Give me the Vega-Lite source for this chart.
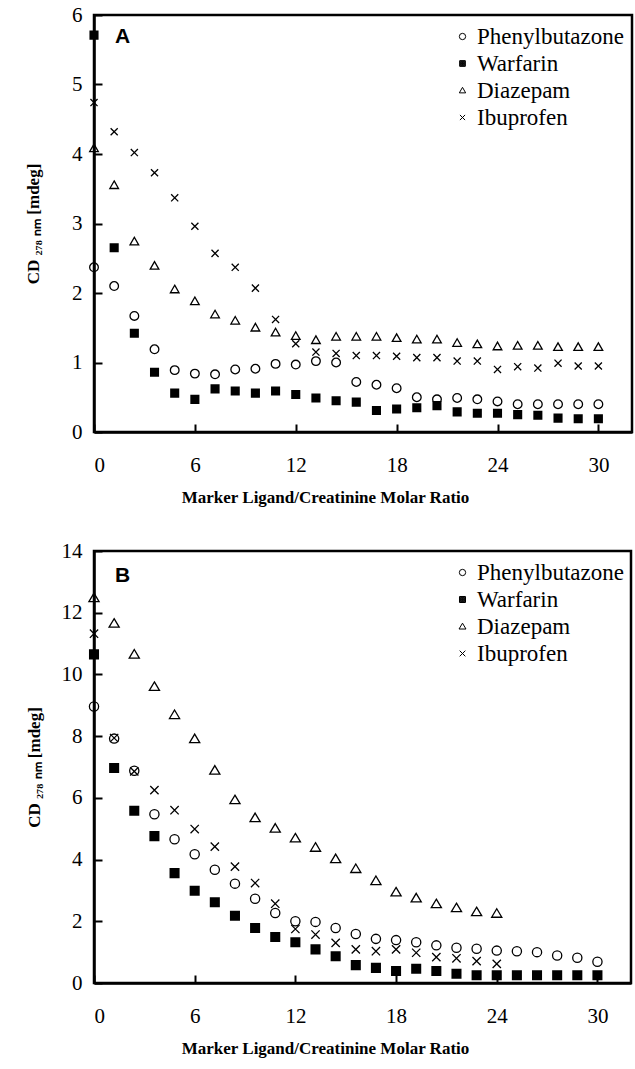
{
  "$schema": "https://vega.github.io/schema/vega-lite/v6.json",
  "padding": {"left": 23, "top": 2, "right": 0, "bottom": 0},
  "background": "white",
  "datasets": {
    "A": [
      {"x": 0, "Phenylbutazone": 2.37, "Warfarin": 5.71, "Diazepam": 4.08, "Ibuprofen": 4.74},
      {"x": 1.2, "Phenylbutazone": 2.10, "Warfarin": 2.65, "Diazepam": 3.55, "Ibuprofen": 4.32},
      {"x": 2.4, "Phenylbutazone": 1.67, "Warfarin": 1.42, "Diazepam": 2.74, "Ibuprofen": 4.02},
      {"x": 3.6, "Phenylbutazone": 1.19, "Warfarin": 0.86, "Diazepam": 2.39, "Ibuprofen": 3.73},
      {"x": 4.8, "Phenylbutazone": 0.89, "Warfarin": 0.56, "Diazepam": 2.05, "Ibuprofen": 3.37},
      {"x": 6, "Phenylbutazone": 0.84, "Warfarin": 0.47, "Diazepam": 1.88, "Ibuprofen": 2.96},
      {"x": 7.2, "Phenylbutazone": 0.83, "Warfarin": 0.62, "Diazepam": 1.69, "Ibuprofen": 2.57},
      {"x": 8.4, "Phenylbutazone": 0.90, "Warfarin": 0.59, "Diazepam": 1.60, "Ibuprofen": 2.37},
      {"x": 9.6, "Phenylbutazone": 0.91, "Warfarin": 0.56, "Diazepam": 1.50, "Ibuprofen": 2.07},
      {"x": 10.8, "Phenylbutazone": 0.98, "Warfarin": 0.59, "Diazepam": 1.43, "Ibuprofen": 1.62},
      {"x": 12, "Phenylbutazone": 0.97, "Warfarin": 0.54, "Diazepam": 1.38, "Ibuprofen": 1.27},
      {"x": 13.2, "Phenylbutazone": 1.02, "Warfarin": 0.49, "Diazepam": 1.32, "Ibuprofen": 1.15},
      {"x": 14.4, "Phenylbutazone": 1.00, "Warfarin": 0.45, "Diazepam": 1.37, "Ibuprofen": 1.13},
      {"x": 15.6, "Phenylbutazone": 0.72, "Warfarin": 0.43, "Diazepam": 1.37, "Ibuprofen": 1.10},
      {"x": 16.8, "Phenylbutazone": 0.68, "Warfarin": 0.31, "Diazepam": 1.37, "Ibuprofen": 1.10},
      {"x": 18, "Phenylbutazone": 0.63, "Warfarin": 0.33, "Diazepam": 1.35, "Ibuprofen": 1.09},
      {"x": 19.2, "Phenylbutazone": 0.50, "Warfarin": 0.35, "Diazepam": 1.33, "Ibuprofen": 1.07},
      {"x": 20.4, "Phenylbutazone": 0.47, "Warfarin": 0.38, "Diazepam": 1.33, "Ibuprofen": 1.07},
      {"x": 21.6, "Phenylbutazone": 0.49, "Warfarin": 0.29, "Diazepam": 1.28, "Ibuprofen": 1.02},
      {"x": 22.8, "Phenylbutazone": 0.47, "Warfarin": 0.27, "Diazepam": 1.26, "Ibuprofen": 1.02},
      {"x": 24, "Phenylbutazone": 0.44, "Warfarin": 0.27, "Diazepam": 1.23, "Ibuprofen": 0.90},
      {"x": 25.2, "Phenylbutazone": 0.40, "Warfarin": 0.25, "Diazepam": 1.24, "Ibuprofen": 0.94},
      {"x": 26.4, "Phenylbutazone": 0.40, "Warfarin": 0.24, "Diazepam": 1.24, "Ibuprofen": 0.92},
      {"x": 27.6, "Phenylbutazone": 0.40, "Warfarin": 0.20, "Diazepam": 1.22, "Ibuprofen": 0.99},
      {"x": 28.8, "Phenylbutazone": 0.40, "Warfarin": 0.19, "Diazepam": 1.22, "Ibuprofen": 0.95},
      {"x": 30, "Phenylbutazone": 0.40, "Warfarin": 0.19, "Diazepam": 1.22, "Ibuprofen": 0.95}
    ],
    "B": [
      {"x": 0, "Phenylbutazone": 8.96, "Warfarin": 10.65, "Diazepam": 12.48, "Ibuprofen": 11.32},
      {"x": 1.2, "Phenylbutazone": 7.92, "Warfarin": 6.97, "Diazepam": 11.65, "Ibuprofen": 7.94},
      {"x": 2.4, "Phenylbutazone": 6.88, "Warfarin": 5.58, "Diazepam": 10.65, "Ibuprofen": 6.86},
      {"x": 3.6, "Phenylbutazone": 5.47, "Warfarin": 4.76, "Diazepam": 9.60, "Ibuprofen": 6.25},
      {"x": 4.8, "Phenylbutazone": 4.66, "Warfarin": 3.56, "Diazepam": 8.69, "Ibuprofen": 5.60},
      {"x": 6, "Phenylbutazone": 4.17, "Warfarin": 2.99, "Diazepam": 7.91, "Ibuprofen": 4.99},
      {"x": 7.2, "Phenylbutazone": 3.67, "Warfarin": 2.62, "Diazepam": 6.89, "Ibuprofen": 4.42},
      {"x": 8.4, "Phenylbutazone": 3.22, "Warfarin": 2.18, "Diazepam": 5.93, "Ibuprofen": 3.77},
      {"x": 9.6, "Phenylbutazone": 2.73, "Warfarin": 1.78, "Diazepam": 5.35, "Ibuprofen": 3.24},
      {"x": 10.8, "Phenylbutazone": 2.27, "Warfarin": 1.49, "Diazepam": 5.01, "Ibuprofen": 2.57},
      {"x": 12, "Phenylbutazone": 2.00, "Warfarin": 1.32, "Diazepam": 4.69, "Ibuprofen": 1.75},
      {"x": 13.2, "Phenylbutazone": 1.98, "Warfarin": 1.09, "Diazepam": 4.39, "Ibuprofen": 1.57},
      {"x": 14.4, "Phenylbutazone": 1.78, "Warfarin": 0.87, "Diazepam": 4.02, "Ibuprofen": 1.30},
      {"x": 15.6, "Phenylbutazone": 1.59, "Warfarin": 0.58, "Diazepam": 3.70, "Ibuprofen": 1.09},
      {"x": 16.8, "Phenylbutazone": 1.43, "Warfarin": 0.49, "Diazepam": 3.31, "Ibuprofen": 1.03},
      {"x": 18, "Phenylbutazone": 1.39, "Warfarin": 0.39, "Diazepam": 2.94, "Ibuprofen": 1.09},
      {"x": 19.2, "Phenylbutazone": 1.32, "Warfarin": 0.46, "Diazepam": 2.75, "Ibuprofen": 0.98},
      {"x": 20.4, "Phenylbutazone": 1.22, "Warfarin": 0.39, "Diazepam": 2.56, "Ibuprofen": 0.84},
      {"x": 21.6, "Phenylbutazone": 1.14, "Warfarin": 0.30, "Diazepam": 2.43, "Ibuprofen": 0.80},
      {"x": 22.8, "Phenylbutazone": 1.11, "Warfarin": 0.25, "Diazepam": 2.30, "Ibuprofen": 0.71},
      {"x": 24, "Phenylbutazone": 1.05, "Warfarin": 0.25, "Diazepam": 2.25, "Ibuprofen": 0.62},
      {"x": 25.2, "Phenylbutazone": 1.03, "Warfarin": 0.25},
      {"x": 26.4, "Phenylbutazone": 1.00, "Warfarin": 0.25},
      {"x": 27.6, "Phenylbutazone": 0.89, "Warfarin": 0.25},
      {"x": 28.8, "Phenylbutazone": 0.82, "Warfarin": 0.25},
      {"x": 30, "Phenylbutazone": 0.69, "Warfarin": 0.25}
    ]
  },
  "config": {
    "font": "Liberation Serif",
    "view": {"stroke": "black", "strokeWidth": 2.5},
    "concat": {"spacing": 31},
    "axis": {
      "grid": false,
      "domainColor": "black",
      "domainWidth": 2.5,
      "tickColor": "black",
      "tickWidth": 2,
      "tickSize": -8,
      "labelFont": "Liberation Serif",
      "labelFontSize": 21,
      "labelColor": "black",
      "titleFont": "Liberation Serif",
      "titleFontSize": 17,
      "titleFontWeight": "bold",
      "titleColor": "black"
    },
    "legend": {
      "orient": "none",
      "legendX": 357,
      "legendY": 10,
      "padding": 0,
      "title": null,
      "labelFont": "Liberation Serif",
      "labelFontSize": 23,
      "labelColor": "black",
      "labelOffset": 3,
      "symbolSize": 40,
      "symbolStrokeColor": "black",
      "symbolStrokeWidth": 1,
      "rowPadding": 3
    }
  },
  "resolve": {
    "scale": {"x": "independent", "y": "independent", "shape": "independent"},
    "legend": {"shape": "independent"}
  },
  "vconcat": [
    {
      "width": 538,
      "height": 417,
      "title": {"text": "A", "anchor": "start", "frame": "group", "offset": -43, "dx": 21, "font": "Liberation Sans", "fontSize": 21, "fontWeight": "bold", "color": "black"},
      "data": {"name": "A"},
      "transform": [
        {"fold": ["Phenylbutazone", "Warfarin", "Diazepam", "Ibuprofen"], "as": ["drug", "cd"]},
        {"filter": "isValid(datum.cd)"}
      ],
      "mark": {"type": "point", "filled": false, "color": "black", "strokeWidth": 1.3, "size": 75, "opacity": 1},
      "encoding": {
        "x": {"field": "x", "type": "quantitative", "scale": {"domain": [0, 32], "nice": false},
          "axis": {"values": [0, 6, 12, 18, 24, 30], "title": "Marker Ligand/Creatinine Molar Ratio", "labelPadding": 30, "titlePadding": 14, "titleX": 231}},
        "y": {"field": "cd", "type": "quantitative", "scale": {"domain": [0, 6], "nice": false},
          "axis": {"values": [0, 1, 2, 3, 4, 5, 6], "title": "CD ₂₇₈ ₙₘ [mdeg]", "labelPadding": 20, "titlePadding": 29}},
        "shape": {"field": "drug", "type": "nominal",
          "scale": {"domain": ["Phenylbutazone", "Warfarin", "Diazepam", "Ibuprofen"], "range": ["circle", "M-0.9,-0.9H0.9V0.9H-0.9Z M-0.72,-0.72H0.72V0.72H-0.72Z M-0.54,-0.54H0.54V0.54H-0.54Z M-0.36,-0.36H0.36V0.36H-0.36Z M-0.18,-0.18H0.18V0.18H-0.18Z M-0.04,-0.04H0.04V0.04H-0.04Z", "M0,-1L1,0.75L-1,0.75Z", "M-0.82,-0.82L0.82,0.82M-0.82,0.82L0.82,-0.82"]}}
      }
    },
    {
      "width": 537,
      "height": 432,
      "title": {"text": "B", "anchor": "start", "frame": "group", "offset": -46, "dx": 21, "font": "Liberation Sans", "fontSize": 21, "fontWeight": "bold", "color": "black"},
      "data": {"name": "B"},
      "transform": [
        {"fold": ["Phenylbutazone", "Warfarin", "Diazepam", "Ibuprofen"], "as": ["drug", "cd"]},
        {"filter": "isValid(datum.cd)"}
      ],
      "mark": {"type": "point", "filled": false, "color": "black", "strokeWidth": 1.3, "size": 85, "opacity": 1},
      "encoding": {
        "x": {"field": "x", "type": "quantitative", "scale": {"domain": [0, 32], "nice": false},
          "axis": {"values": [0, 6, 12, 18, 24, 30], "title": "Marker Ligand/Creatinine Molar Ratio", "labelPadding": 30, "titlePadding": 14, "titleX": 231}},
        "y": {"field": "cd", "type": "quantitative", "scale": {"domain": [0, 14], "nice": false},
          "axis": {"values": [0, 2, 4, 6, 8, 10, 12, 14], "title": "CD ₂₇₈ ₙₘ [mdeg]", "labelPadding": 20, "titlePadding": 18}},
        "shape": {"field": "drug", "type": "nominal",
          "scale": {"domain": ["Phenylbutazone", "Warfarin", "Diazepam", "Ibuprofen"], "range": ["circle", "M-0.95,-0.95H0.95V0.95H-0.95Z M-0.76,-0.76H0.76V0.76H-0.76Z M-0.57,-0.57H0.57V0.57H-0.57Z M-0.38,-0.38H0.38V0.38H-0.38Z M-0.19,-0.19H0.19V0.19H-0.19Z M-0.04,-0.04H0.04V0.04H-0.04Z", "M0,-1.05L1.1,0.8L-1.1,0.8Z", "M-0.9,-0.9L0.9,0.9M-0.9,0.9L0.9,-0.9"]}}
      }
    }
  ]
}
